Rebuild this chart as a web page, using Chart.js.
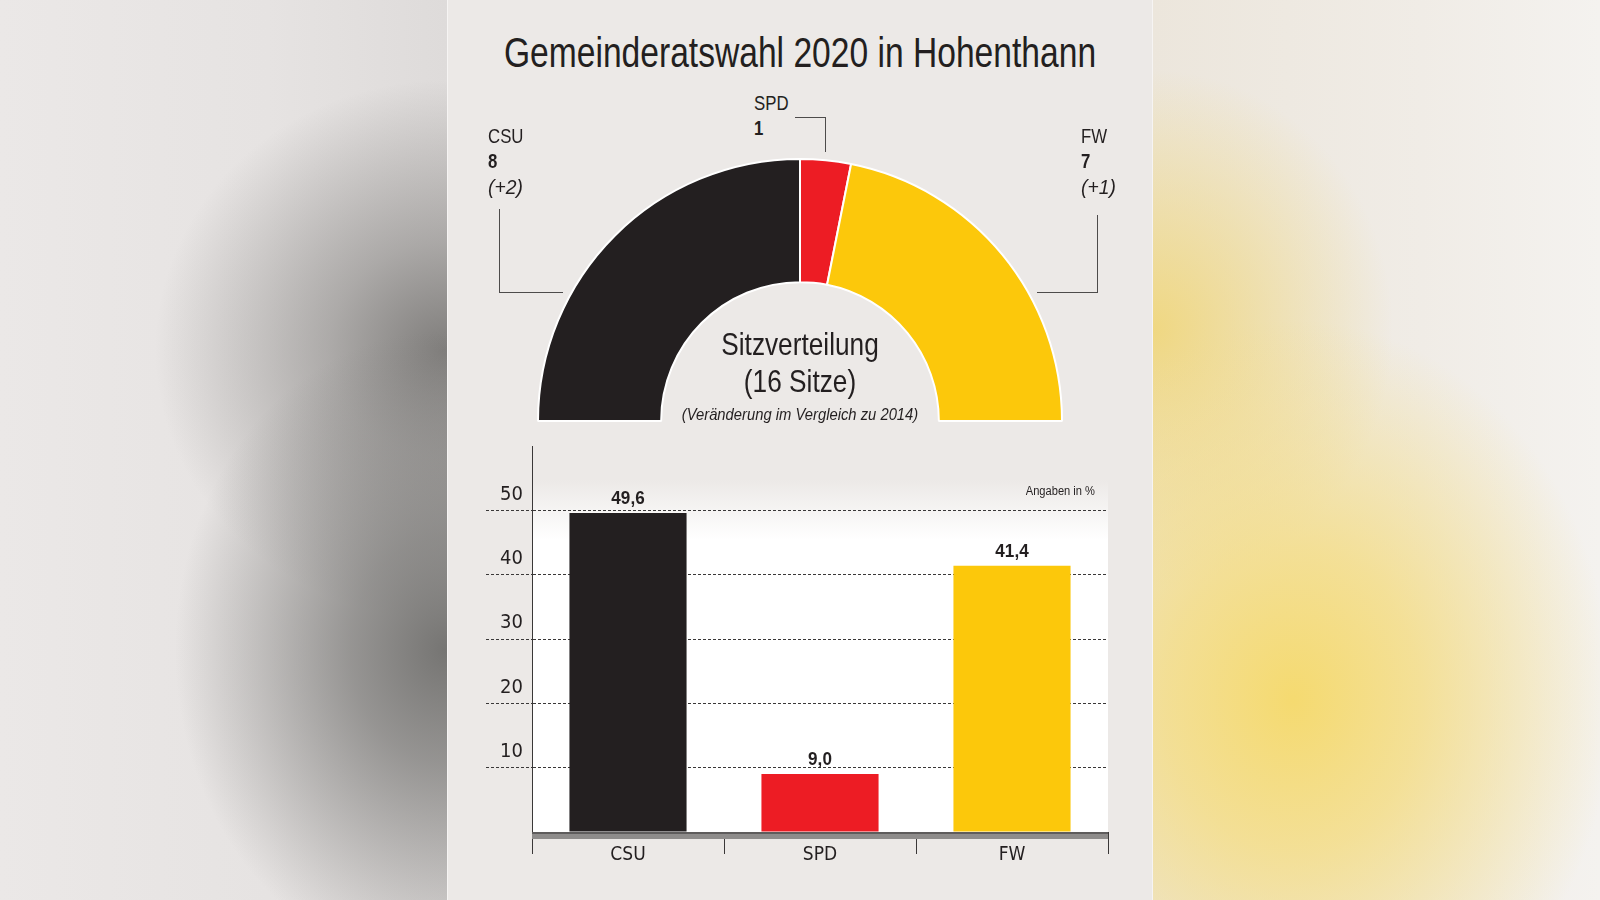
<!DOCTYPE html>
<html>
<head>
<meta charset="utf-8">
<script src="https://cdn.jsdelivr.net/npm/chart.js@4.4.1/dist/chart.umd.min.js"></script>
<style>
html,body{margin:0;padding:0;width:1600px;height:900px;overflow:hidden;background:#ece9e7;}
#left{position:absolute;left:0;top:0;width:447px;height:900px;
  background:
   radial-gradient(ellipse 270px 320px at 445px 650px, rgba(118,117,115,1) 0%, rgba(118,117,115,0.7) 35%, rgba(118,117,115,0) 100%),
   radial-gradient(ellipse 290px 270px at 445px 350px, rgba(128,126,124,1) 0%, rgba(128,126,124,0.55) 40%, rgba(128,126,124,0) 100%),
   linear-gradient(90deg,#ebe8e7 0%,#e6e3e2 60%,#dedbda 100%);}
#right{position:absolute;left:1153px;top:0;width:447px;height:900px;
  background:
   radial-gradient(ellipse 320px 380px at 140px 700px, rgba(245,218,112,1) 0%, rgba(245,220,125,0.75) 40%, rgba(245,225,160,0) 100%),
   radial-gradient(ellipse 240px 260px at 0px 330px, rgba(240,214,120,0.9) 0%, rgba(240,214,120,0) 100%),
   linear-gradient(90deg,#ece6dc 0%,#f0ece6 60%,#f4f2ef 100%);}
#panel{position:absolute;left:447px;top:0;width:706px;height:900px;background:#ece9e7;
  box-shadow:inset 1px 0 0 #f6f4f3, inset -1px 0 0 #f6f4f3;}
.t{position:absolute;white-space:nowrap;font-family:"Liberation Sans",Arial,sans-serif;color:#231f20;line-height:1;transform-origin:0 0;}
.ln{position:absolute;background:#4d4b4b;}
#donut{position:absolute;left:500px;top:140px;}
#bars{position:absolute;left:440px;top:430px;}
</style>
</head>
<body>
<div id="left"></div>
<div id="right"></div>
<div id="panel"></div>
<canvas id="donut" width="600" height="300"></canvas>
<canvas id="bars" width="700" height="440"></canvas>
<div id="texts"></div>
<script>
// ---- data ----
const titleText = 'Gemeinderatswahl 2020 in Hohenthann';
const parties = ['CSU', 'SPD', 'FW'];
const seats = [8, 1, 7];
const seatChange = ['(+2)', '', '(+1)'];
const votePct = [49.6, 9.0, 41.4];
const yTickLabels = [10, 20, 30, 40, 50];
const centerLines = ['Sitzverteilung', '(16 Sitze)'];
const centerNote = '(Veränderung im Vergleich zu 2014)';
const unitNote = 'Angaben in %';
const partyColors = ['#231f20', '#ed1c24', '#fcc80b'];

// ---- text helper (condensed look: Liberation Sans squeezed horizontally) ----
const FONT = '"Liberation Sans", Arial, sans-serif';
const TICKFONT = '"DejaVu Sans Condensed", "Liberation Sans", sans-serif';
const SQ = 0.8;
const holder = document.getElementById('texts');
function addText(txt, x, base, size, align, weight, italic, sq) {
  const k = sq || SQ;
  const d = document.createElement('div');
  d.className = 't';
  d.textContent = txt;
  d.style.fontSize = size + 'px';
  d.style.top = (base - 0.8465 * size) + 'px';
  d.style.left = x + 'px';
  if (weight) d.style.fontWeight = weight;
  if (italic) d.style.fontStyle = 'italic';
  if (align === 'center') { d.style.transformOrigin = '50% 0'; d.style.transform = 'translateX(-50%) scaleX(' + k + ')'; }
  else if (align === 'right') { d.style.transformOrigin = '100% 0'; d.style.transform = 'translateX(-100%) scaleX(' + k + ')'; }
  else { d.style.transform = 'scaleX(' + k + ')'; }
  holder.appendChild(d);
  return d;
}
function addLine(x, y, w, h) {
  const d = document.createElement('div');
  d.className = 'ln';
  d.style.left = x + 'px'; d.style.top = y + 'px';
  d.style.width = w + 'px'; d.style.height = h + 'px';
  holder.appendChild(d);
}

addText(titleText, 800, 68, 42, 'center');

// party labels around the half ring
const labelPos = [{x: 488, b: 143}, {x: 754, b: 110}, {x: 1081, b: 143}];
parties.forEach((p, i) => {
  const L = labelPos[i];
  addText(p, L.x, L.b, 21);
  addText(String(seats[i]), L.x, L.b + 25, 21, null, 'bold');
  if (seatChange[i]) addText(seatChange[i], L.x, L.b + 51, 21, null, null, true, 0.92);
});
// leader lines
addLine(499, 209, 1, 84); addLine(499, 292, 64, 1);
addLine(795, 117, 31, 1); addLine(825, 117, 1, 35);
addLine(1097, 215, 1, 78); addLine(1037, 292, 61, 1);

addText(centerLines[0], 800, 355, 30.5, 'center', null, false, 0.86);
addText(centerLines[1], 800, 392, 30.5, 'center', null, false, 0.86);
addText(centerNote, 800, 420, 17, 'center', null, true, 0.87);
addText(unitNote, 1095, 496, 12.5, 'right', null, false, 0.89);

// ---- doughnut (half ring) ----
new Chart(document.getElementById('donut'), {
  type: 'doughnut',
  data: {
    labels: parties,
    datasets: [{
      data: seats,
      backgroundColor: partyColors,
      borderColor: '#ffffff',
      borderWidth: 2
    }]
  },
  options: {
    responsive: false,
    animation: false,
    rotation: -90,
    circumference: 180,
    radius: 262,
    cutout: '53%',
    layout: {padding: 0},
    plugins: {legend: {display: false}, tooltip: {enabled: false}}
  }
});

// ---- bar chart ----
const bgPlugin = {
  id: 'bg',
  beforeDraw(chart) {
    const {ctx, chartArea: a} = chart;
    const top = a.top + 34;
    const g = ctx.createLinearGradient(0, top, 0, top + 60);
    g.addColorStop(0, '#ece9e7');
    g.addColorStop(1, '#ffffff');
    ctx.save();
    ctx.fillStyle = g;
    ctx.fillRect(a.left, top, a.right - a.left, a.bottom - top);
    ctx.restore();
  }
};
const axisBarPlugin = {
  id: 'axisBar',
  afterDatasetsDraw(chart) {
    const {ctx} = chart;
    const xs = chart.scales.x;
    ctx.save();
    ctx.fillStyle = '#8e8c8b';
    ctx.fillRect(xs.left, xs.top, xs.right - xs.left, 7);
    ctx.fillStyle = '#5e5c5c';
    ctx.fillRect(xs.left, xs.top, xs.right - xs.left, 2);
    ctx.restore();
  }
};
const valuePlugin = {
  id: 'values',
  afterDatasetsDraw(chart) {
    const {ctx} = chart;
    const meta = chart.getDatasetMeta(0);
    ctx.save();
    ctx.font = 'bold 18px ' + FONT;
    ctx.fillStyle = '#231f20';
    ctx.textAlign = 'center';
    ctx.textBaseline = 'alphabetic';
    meta.data.forEach((bar, i) => {
      ctx.save();
      ctx.translate(bar.x, bar.y - 9);
      ctx.scale(0.95, 1);
      ctx.fillText(votePct[i].toFixed(1).replace('.', ','), 0, 0);
      ctx.restore();
    });
    ctx.restore();
  }
};

new Chart(document.getElementById('bars'), {
  type: 'bar',
  data: {
    labels: parties,
    datasets: [{
      data: votePct,
      backgroundColor: partyColors,
      borderWidth: 0,
      barPercentage: 0.61,
      categoryPercentage: 1
    }]
  },
  options: {
    responsive: false,
    animation: false,
    layout: {padding: {top: 16, right: 32, left: 0, bottom: 0}},
    plugins: {legend: {display: false}, tooltip: {enabled: false}},
    scales: {
      x: {
        afterFit(s) { s.height = 38; },
        grid: {offset: true, drawOnChartArea: false, drawTicks: true, tickLength: 22, color: '#3a3838', lineWidth: 1},
        border: {display: false},
        ticks: {font: {family: TICKFONT, size: 19}, color: '#231f20', padding: -10}
      },
      y: {
        min: 0, max: 60,
        afterFit(s) { s.width = 92; },
        afterBuildTicks(s) { s.ticks = [0, ...yTickLabels, 60].map(v => ({value: v})); },
        grid: {
          color: c => yTickLabels.includes(c.tick && c.tick.value) ? '#3a3838' : 'rgba(0,0,0,0)',
          tickColor: c => yTickLabels.includes(c.tick && c.tick.value) ? '#3a3838' : 'rgba(0,0,0,0)',
          lineWidth: 1, tickLength: 46, tickBorderDash: [3, 2]
        },
        border: {display: true, color: '#3a3838', width: 1, dash: [3, 2]},
        ticks: {
          callback: v => yTickLabels.includes(v) ? String(v) : '',
          font: {family: TICKFONT, size: 20}, color: '#231f20', padding: -37, labelOffset: -16
        }
      }
    }
  },
  plugins: [bgPlugin, axisBarPlugin, valuePlugin]
});
</script>
</body>
</html>
